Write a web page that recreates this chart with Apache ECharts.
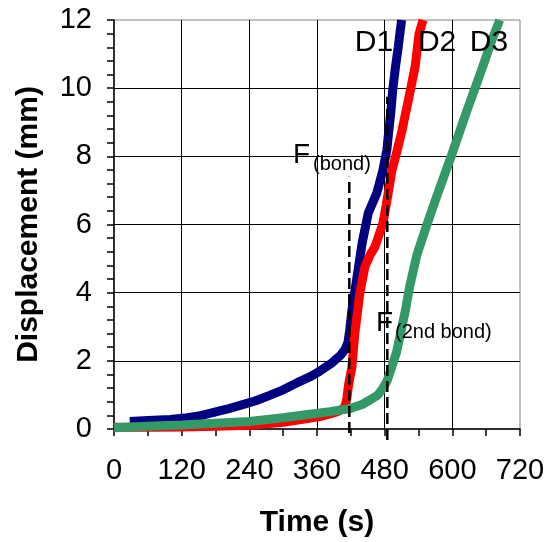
<!DOCTYPE html>
<html>
<head>
<meta charset="utf-8">
<script src="https://cdn.jsdelivr.net/npm/echarts@6/dist/echarts.min.js"></script>
<style>html,body{margin:0;padding:0;background:#fff}#c{width:545px;height:542px}</style>
</head>
<body>
<div id="c"></div>
<script>
// Time (s), displacement (mm)
const d1 = [[28,0.22],[60,0.25],[100,0.28],[125,0.32],[150,0.38],[175,0.48],[200,0.58],[225,0.7],[250,0.82],[275,0.98],[300,1.15],[330,1.4],[350,1.55],[365,1.7],[385,1.92],[401,2.15],[410,2.34],[415,2.55],[418,2.9],[422,3.5],[431,4.46],[440,5.45],[451,6.34],[466,6.92],[477,7.6],[484,8.2],[487,8.7],[491,9.3],[494,9.9],[499,10.6],[504,11.2],[510,12]];
const d2 = [[0,0.05],[60,0.05],[120,0.06],[180,0.08],[240,0.11],[300,0.2],[340,0.3],[370,0.38],[395,0.5],[405,0.58],[410,0.68],[413,0.9],[416,1.3],[422,1.82],[427,2.8],[436,3.99],[445,4.76],[454,5.1],[463,5.35],[477,6.04],[483,6.6],[488,7.1],[493,7.6],[498,7.9],[504,8.3],[510,8.7],[522,9.65],[534,10.63],[541,11.6],[548,12]];
const d3 = [[0,0.04],[60,0.08],[120,0.12],[180,0.17],[240,0.22],[300,0.33],[340,0.42],[383,0.51],[419,0.6],[440,0.72],[454,0.85],[468,1.0],[477,1.2],[484,1.4],[489,1.64],[495,1.95],[501,2.25],[510,2.95],[517,3.5],[524,4.15],[537,5.1],[555,6.0],[575,6.95],[598,8.0],[625,9.3],[649,10.4],[670,11.4],[684,12.0]];
const bondLine = [[417.3,-0.12],[417.3,7.4]];
const bond2Line = [[484.7,-0.32],[484.7,9.75]];
const xTicks = [0,120,240,360,480,600,720];
const yTicks = [0,2,4,6,8,10,12];
// text annotations: [time, displacement, text]
const bigLabels = [[427,11.34,'D1'],[539,11.34,'D2'],[631,11.34,'D3']];
const fLabels = [[317.5,8.04,'F'],[464.6,3.11,'F']];
const subLabels = [[352.9,7.75,'(bond)'],[498.3,2.82,'(2nd bond)']];

const FONT = "'Liberation Sans', Arial, sans-serif";
const chart = echarts.init(document.getElementById('c'), null, {renderer:'canvas'});
function textSeries(arr, size){
  return {
    type:'scatter', symbolSize:0, silent:true, z:10,
    data: arr.map(a=>({value:[a[0],a[1]], name:a[2]})),
    itemStyle:{opacity:1},
    label:{show:true, position:[0,0], align:'left', verticalAlign:'middle',
      formatter:p=>p.name, color:'#000', opacity:1, textBorderWidth:0, fontSize:size, fontFamily:FONT}
  };
}
chart.setOption({
  animation:false,
  grid:{left:114, right:25, top:20, bottom:113, containLabel:false, outerBoundsMode:'none',
    show:true, borderColor:'#808080', borderWidth:1},
  xAxis:{type:'value', min:xTicks[0], max:xTicks[xTicks.length-1], interval:120,
    axisLine:{show:true, onZero:false, lineStyle:{color:'#000', width:1.5}},
    axisTick:{show:true, length:7, lineStyle:{color:'#000', width:1.5}},
    minorTick:{show:true, splitNumber:2, length:7, lineStyle:{color:'#000', width:1.5}},
    splitLine:{show:true, showMinLine:false, showMaxLine:false, lineStyle:{color:'#000', width:1}},
    axisLabel:{fontSize:29, color:'#000', fontFamily:FONT, margin:27},
    name:'Time (s)', nameLocation:'middle', nameGap:79,
    nameTextStyle:{fontSize:30, fontWeight:'bold', color:'#000', fontFamily:FONT}
  },
  yAxis:{type:'value', min:yTicks[0], max:yTicks[yTicks.length-1], interval:2,
    axisLine:{show:true, onZero:false, lineStyle:{color:'#000', width:1.5}},
    axisTick:{show:true, length:7, lineStyle:{color:'#000', width:1.5}},
    minorTick:{show:true, splitNumber:5, length:7, lineStyle:{color:'#000', width:1.5}},
    splitLine:{show:true, showMinLine:false, showMaxLine:false, lineStyle:{color:'#000', width:1}},
    axisLabel:{fontSize:29, color:'#000', fontFamily:FONT, margin:22},
    name:'Displacement (mm)', nameLocation:'middle', nameGap:70,
    nameTextStyle:{fontSize:30, fontWeight:'bold', color:'#000', fontFamily:FONT}
  },
  series:[
    {type:'line', data:d1, symbol:'none', lineStyle:{color:'#000080', width:9}, z:3},
    {type:'line', data:d2, symbol:'none', lineStyle:{color:'#ff0000', width:9}, z:4},
    {type:'line', data:d3, symbol:'none', lineStyle:{color:'#339966', width:9}, z:5},
    {type:'line', data:bondLine, symbol:'none', clip:false, lineStyle:{color:'#000', width:2.5, type:[11,5]}, z:6},
    {type:'line', data:bond2Line, symbol:'none', clip:false, lineStyle:{color:'#000', width:2.5, type:[11,5]}, z:6},
    textSeries(bigLabels, 30),
    textSeries(fLabels, 28),
    textSeries(subLabels, 20)
  ]
});
</script>
</body>
</html>
